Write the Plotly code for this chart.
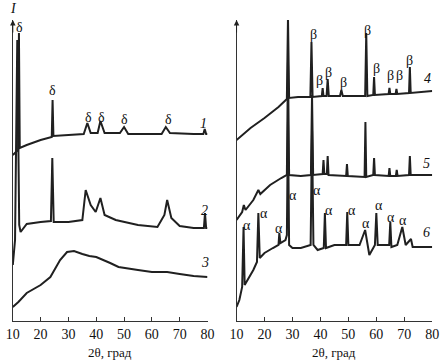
import plotly.graph_objects as go

# ---------- data (2θ in degrees, intensity in arbitrary units) ----------
c1_x = [10.0, 11.9, 12.2, 12.5, 15, 20, 24.0, 24.3, 24.6, 30, 35.5, 36.8, 38, 40.5, 41.5, 43, 48.5, 50, 51.5,
        60, 63.5, 65, 66.5, 75, 78.5, 79, 79.5, 80]
c1_y = [166, 171, 288, 173, 176, 181, 184, 221, 185, 186, 187, 198, 188, 188, 200, 188, 188, 194, 187,
        187, 187, 194, 188, 187, 187, 192, 187, 187]

c2_x = [10, 10.8, 11.6, 12.3, 12.8, 15, 20, 23.7, 24.2, 24.7, 30, 35, 36.2, 38, 39.8, 41.5, 43, 47, 55, 62,
        64.5, 65.5, 67, 70, 75, 78.7, 79.1, 79.5, 80]
c2_y = [56, 81, 281, 96, 89, 97, 99, 100, 163, 99, 99, 101, 131, 116, 109, 123, 106, 101, 96, 94,
        106, 121, 103, 95, 93, 93, 108, 93, 93]

c3_x = [10, 12, 15, 20, 23.5, 25, 27, 29.5, 32, 35, 37.5, 40, 42.7, 45, 48, 52, 55, 60, 65.5, 70, 75, 80]
c3_y = [14, 19, 28, 36, 44, 51, 61, 69, 70, 67, 65, 64, 61, 58, 54, 52, 51, 49, 49, 47, 45, 44]

c4_x = [10, 15, 20, 25, 28.0, 28.4, 28.8, 32, 36.4, 36.8, 37.2, 40.5, 40.8, 41.1, 42.2, 42.6, 43.0,
        47.0, 47.5, 48.0, 56.0, 56.4, 56.8, 58.9, 59.2, 59.5, 64.4, 64.7, 65.0, 66.9, 67.2, 67.5,
        71.7, 72.0, 72.3, 80]
c4_y = [181, 193, 203, 214, 222, 304, 223, 224, 224, 279, 224, 225, 233, 225, 225, 242, 225,
        225, 231, 225, 225, 288, 225, 226, 244, 226, 227, 233, 227, 227, 232, 227,
        228, 254, 228, 230]

c5_x = [10, 12, 12.6, 13.2, 16, 17.8, 18.5, 22, 26, 28.0, 28.4, 28.8, 33, 36.6, 37.0, 37.4, 40.8, 41.1,
        41.4, 42.3, 42.6, 42.9, 49.2, 49.5, 49.8, 55.8, 56.1, 56.4, 58.9, 59.2, 59.5, 64.4, 64.7,
        65.0, 67.0, 67.3, 67.6, 71.7, 72.0, 72.3, 80]
c5_y = [101, 109, 116, 111, 121, 131, 127, 136, 143, 146, 261, 146, 145, 146, 226, 146, 147, 161,
        147, 147, 165, 146, 145, 157, 145, 144, 199, 144, 146, 163, 146, 145, 153,
        145, 145, 151, 145, 146, 165, 146, 146]

c6_x = [10, 11, 12.0, 12.5, 12.9, 14, 16, 17.3, 17.8, 18.3, 20, 23, 25.0, 25.3, 25.7, 27.5, 28.0, 28.4,
        28.8, 30, 33, 36.5, 37.0, 37.5, 39, 41.2, 41.6, 42.0, 45, 49.2, 49.6, 50.0, 54, 56.0, 57.5,
        59.5, 60.0, 60.5, 64.6, 65.0, 65.4, 67.5, 69.3, 70.5, 72.4, 73, 80]
c6_y = [14, 21, 34, 94, 36, 41, 51, 59, 108, 63, 68, 73, 76, 88, 78, 81, 86, 201,
        76, 73, 73, 76, 191, 76, 71, 73, 108, 73, 76, 76, 109, 76, 76, 91, 66,
        76, 108, 76, 76, 99, 74, 76, 94, 76, 82, 74, 74]

# peak-label positions (2θ, intensity)
delta_x = [12.4, 24.3, 37.2, 42.0, 50.1, 66.1]
delta_y = [294, 231, 204, 204, 202, 202]
beta_x = [30.4, 37.4, 39.8, 42.9, 48.1, 56.8, 60.2, 65.1, 68.2, 72.0]
beta_y = [309, 287, 241, 249, 239, 291, 253, 246, 246, 261]
alpha_x = [13.8, 19.7, 25.2, 30.1, 38.8, 42.9, 51.2, 56.4, 60.9, 65.4, 69.6]
alpha_y = [96, 108, 93, 126, 131, 111, 111, 98, 116, 104, 101]
num_left = ["1", "2", "3"]
num_left_x = [78.6, 79.0, 79.0]
num_left_y = [198, 111, 59]
num_right = ["4", "5", "6"]
num_right_x = [78.3, 77.9, 77.9]
num_right_y = [243, 158, 89]

tick_vals = [10, 20, 30, 40, 50, 60, 70, 80]
x_title = "2θ, град"
y_title = "I"

# ---------- figure ----------
W, H = 446, 360
FONT = "Liberation Serif"
LINE = dict(color="#202020", width=2)

fig = go.Figure()
for xs, ys in [(c1_x, c1_y), (c2_x, c2_y), (c3_x, c3_y)]:
    fig.add_trace(go.Scatter(x=xs, y=ys, mode="lines", line=LINE, xaxis="x", yaxis="y",
                             showlegend=False, hoverinfo="skip"))
for xs, ys in [(c4_x, c4_y), (c5_x, c5_y), (c6_x, c6_y)]:
    fig.add_trace(go.Scatter(x=xs, y=ys, mode="lines", line=LINE, xaxis="x2", yaxis="y2",
                             showlegend=False, hoverinfo="skip"))

ydom = [39 / H, 340 / H]
xcommon = dict(range=[10, 80], tickvals=tick_vals, ticks="inside", ticklen=4, tickcolor="#333",
               showline=True, linecolor="#333", linewidth=1, showgrid=False, zeroline=False,
               tickfont=dict(family=FONT, size=14, color="#111"))
ycommon = dict(range=[0, 301], showline=True, linecolor="#333", linewidth=1, showgrid=False,
               zeroline=False, showticklabels=False, ticks="")

fig.update_layout(
    width=W, height=H, margin=dict(l=0, r=0, t=0, b=0),
    paper_bgcolor="white", plot_bgcolor="white",
    font=dict(family=FONT),
    xaxis=dict(domain=[6 / W, 207 / W], anchor="y", **xcommon),
    yaxis=dict(domain=ydom, anchor="x", **ycommon),
    xaxis2=dict(domain=[237 / W, 439 / W], anchor="y2", **xcommon),
    yaxis2=dict(domain=ydom, anchor="x2", **ycommon),
)

ann = []
def txt(x, y, s, xref, yref, size=14, italic=False):
    ann.append(dict(x=x, y=y, xref=xref, yref=yref, text=(f"<i>{s}</i>" if italic else s),
                    showarrow=False, font=dict(family=FONT, size=size, color="#111"),
                    xanchor="center", yanchor="middle"))

for x, y in zip(delta_x, delta_y):
    txt(x, y, "δ", "x", "y")
for x, y in zip(beta_x, beta_y):
    txt(x, y, "β", "x2", "y2")
for x, y in zip(alpha_x, alpha_y):
    txt(x, y, "α", "x2", "y2")
for s, x, y in zip(num_left, num_left_x, num_left_y):
    txt(x, y, s, "x", "y", size=14, italic=True)
for s, x, y in zip(num_right, num_right_x, num_right_y):
    txt(x, y, s, "x2", "y2", size=14, italic=True)

# axis titles
txt(106.5 / W, 1 - 352 / H, x_title, "paper", "paper", size=13)
txt(338 / W, 1 - 352 / H, x_title, "paper", "paper", size=13)
txt(7 / W, 1 - 8 / H, y_title, "paper", "paper", size=14, italic=True)

# arrow heads on the intensity axes
for xr, yr in [("x", "y"), ("x2", "y2")]:
    ann.append(dict(x=10, y=301, xref=xr, yref=yr, ax=0, ay=14, axref="pixel", ayref="pixel",
                    text="", showarrow=True, arrowhead=2, arrowsize=1.1, arrowwidth=1,
                    arrowcolor="#222", standoff=0))

fig.update_layout(annotations=ann)
fig.write_html("out.html", config={"displayModeBar": False},
               post_script="document.body.style.margin='0';")
